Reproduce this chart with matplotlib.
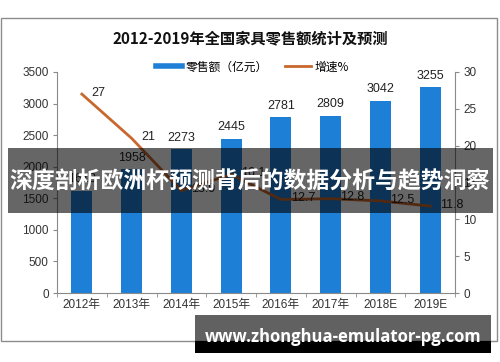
import matplotlib
matplotlib.use("Agg")
import matplotlib.pyplot as plt
from matplotlib.patches import Rectangle
from matplotlib.lines import Line2D

years = ["2012年", "2013年", "2014年", "2015年", "2016年", "2017年", "2018E", "2019E"]
sales = [1618, 1958, 2273, 2445, 2781, 2809, 3042, 3255]
growth = [27, 21, 13.9, 16.1, 12.7, 12.8, 12.5, 11.8]
growth_labels = ["27", "21", "13.9", "16.1", "12.7", "12.8", "12.5", "11.8"]

title = "2012-2019年全国家具零售额统计及预测"
legend_labels = ["零售额（亿元）", "增速%"]
banner = "深度剖析欧洲杯预测背后的数据分析与趋势洞察"
url = "www.zhonghua-emulator-pg.com"

CJK = ["Noto Sans CJK SC", "DejaVu Sans"]
NUM = ["Liberation Sans", "Noto Sans CJK SC"]
BLUE = "#1E7FD6"
ORANGE = "#C8682E"
AX = "#8a8a8a"
TXT = "#333333"

fig = plt.figure(figsize=(5, 3.62), dpi=100)
fig.patch.set_facecolor("white")

# outer frame
fig.add_artist(Rectangle((1/500, 1-341/362), 496/500, 323/362, transform=fig.transFigure,
                         fill=False, edgecolor="#8c8c8c", lw=1))

ax = fig.add_axes([57/500, 1-293/362, 398/500, 221/362])
x = list(range(len(years)))
bars = ax.bar(x, sales, width=0.42, color=BLUE, zorder=2)
ax.set_xlim(-0.5, len(years)-0.5)
ax.set_ylim(0, 3500)
ax.set_yticks(range(0, 3501, 500))
ax.set_xticks(x)
ax.set_xticklabels(years, family=NUM, fontsize=8.5, color=TXT)
ax.set_xticks([i-0.5 for i in range(len(years)+1)], minor=True)
ax.tick_params(axis="x", which="major", length=0, pad=4)
ax.tick_params(axis="x", which="minor", length=3, direction="out", color=AX)
ax.tick_params(axis="y", length=3, direction="out", color=AX, labelsize=8.5, labelcolor=TXT, pad=3)
for lab in ax.get_yticklabels():
    lab.set_family(NUM)
for s in ["top", "right"]:
    ax.spines[s].set_visible(False)
for s in ["left", "bottom"]:
    ax.spines[s].set_color(AX)
for xi, v in zip(x, sales):
    ax.annotate(str(v), (xi, v), xytext=(0, 4), textcoords="offset points",
                ha="center", va="bottom", fontsize=9, family=NUM, color="#222222")

ax2 = ax.twinx()
ax2.set_ylim(0, 30)
ax2.set_yticks(range(0, 31, 5))
ax2.plot(x, growth, color=ORANGE, lw=2, zorder=3)
ax2.tick_params(axis="y", length=3, direction="out", color=AX, labelsize=8.5, labelcolor=TXT, pad=3)
for lab in ax2.get_yticklabels():
    lab.set_family(NUM)
for s in ["top", "left", "bottom"]:
    ax2.spines[s].set_visible(False)
ax2.spines["right"].set_color(AX)
for xi, v, t in zip(x, growth, growth_labels):
    ax2.annotate(t, (xi, v), xytext=(7, 1), textcoords="offset points",
                 ha="left", va="center", fontsize=9, family=NUM, color="#222222")

fig.text(0.5, 1-38/362, title, ha="center", va="center", fontsize=11, fontweight="bold",
         family=CJK, color="#111111")

handles = [Line2D([], [], color=BLUE, lw=4), Line2D([], [], color=ORANGE, lw=2)]
fig.legend(handles, legend_labels, loc="center", bbox_to_anchor=(0.505, 1-67/362), ncol=2,
           frameon=False, handlelength=2.2, handletextpad=0.3, columnspacing=1.5,
           prop={"family": CJK, "size": 8.5})

# overlay banner
fig.add_artist(Rectangle((8/500, 1-213/362), 485/500, 65/362, transform=fig.transFigure,
                         facecolor="black", alpha=0.6, lw=0, zorder=10))
fig.text(0.5, 1-182/362, banner, ha="center", va="center", fontsize=16.5, fontweight="bold",
         family=CJK, color="white", zorder=11)

# url banner
fig.add_artist(Rectangle((195/500, 1-341/362), 296/500, 26/362, transform=fig.transFigure,
                         facecolor="black", alpha=0.62, lw=0, zorder=10))
fig.add_artist(Rectangle((195/500, 1-353/362), 296/500, 12/362, transform=fig.transFigure,
                         facecolor="black", lw=0, zorder=10))
fig.text(343/500, 1-337/362, url, ha="center", va="center", fontsize=12, fontweight="bold",
         family=["Open Sans", "DejaVu Sans"], color="white", zorder=11)

fig.savefig("out.png", dpi=100)
